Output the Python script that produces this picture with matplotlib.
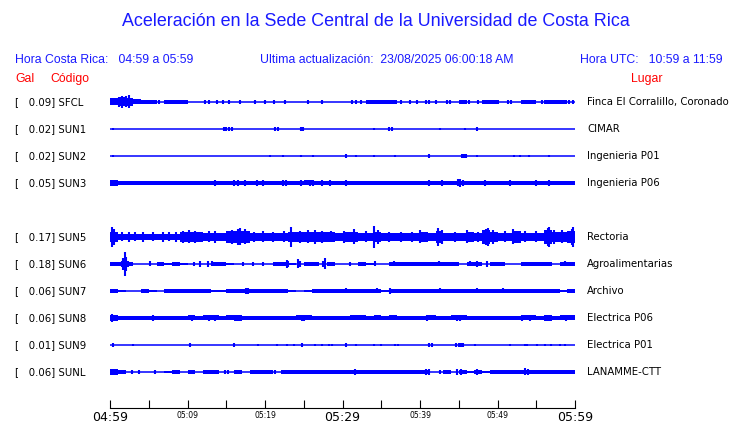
import matplotlib
matplotlib.use("Agg")
import matplotlib.pyplot as plt

# Stations (top to bottom); row 4 is left empty in the display
codes = ["SFCL", "SUN1", "SUN2", "SUN3", "SUN5", "SUN6", "SUN7", "SUN8", "SUN9", "SUNL"]
peaks = [0.09, 0.02, 0.02, 0.05, 0.17, 0.18, 0.06, 0.06, 0.01, 0.06]
places = ["Finca El Corralillo, Coronado", "CIMAR", "Ingenieria P01", "Ingenieria P06",
          "Rectoria", "Agroalimentarias", "Archivo", "Electrica P06", "Electrica P01",
          "LANAMME-CTT"]
rows = [0, 1, 2, 3, 5, 6, 7, 8, 9, 10]

# Time axis (minutes after 04:59 local)
tick_min = [0, 5, 10, 15, 20, 25, 30, 35, 40, 45, 50, 55, 60]
tick_lbl = ["04:59", "", "05:09", "", "05:19", "", "05:29", "", "05:39", "", "05:49", "", "05:59"]

# Envelope half-height (px) per minute
sfcl_band = [3.5, 4.5, 4, 2.5, 2.2, 2.2, 0, 2, 2, 1.9, 0, 0, 0, 0, 0, 0, 0, 0, 0, 0,
             0, 0, 0, 0, 0, 0, 0, 0, 0, 0, 0, 0, 0, 1.9, 2.2, 2.2, 2.2, 0, 0, 0,
             0, 0, 0, 0, 0, 1.9, 0, 0, 1.9, 1.9, 0, 0, 0, 1.9, 1.9, 0, 1.7, 1.9, 1.7, 0]
sun1_band = [0] * 60
sun2_band = [0] * 60
sun3_band = [2.6, 2.4, 2.4, 2.3, 1.9, 2.3, 2.3, 2.1, 2.0, 2.2, 2.2, 2.2, 2.2, 2.2, 2.2, 2.2, 2.3, 2.2, 2.2, 2.2,
             2.2, 2.2, 2.4, 2.2, 2.2, 2.5, 2.4, 2.2, 2.2, 2.2, 2.3, 2.2, 2.2, 2.2, 2.2, 2.2, 2.2, 2.2, 2.2, 2.2,
             2.2, 2.2, 2.2, 2.2, 2.4, 2.4, 2.2, 2.2, 2.2, 2.2, 2.2, 2.2, 2.2, 2.2, 2.2, 2.2, 2.2, 2.2, 2.2, 2.2]
sun5_band = [4.8, 3.4, 3.4, 3.4, 3.4, 3.4, 3.4, 3.4, 3.4, 4.8, 4.8, 4.8, 4.2, 4.2, 4.2, 6, 6, 6, 4.2, 4.2,
             4.2, 4.2, 4.2, 4.8, 4.8, 4.8, 4.8, 4.8, 4.8, 3.8, 4.8, 4.8, 3.8, 3.8, 5.4, 3.8, 3.8, 3.8, 3.8, 4.2,
             5.4, 3.8, 6, 3.6, 3.6, 3.8, 5.4, 3.6, 6.6, 5.4, 4.2, 4.2, 6, 4.2, 4.2, 4.2, 7, 5.4, 5.4, 6]
sun6_band = [2, 2, 2, 0, 0, 0, 1.7, 1.4, 1.7, 1.4, 0, 0, 0, 1.7, 1.7, 1.4, 0, 0, 0, 0,
             0, 1.9, 1.9, 1.4, 0, 1.7, 1.7, 0, 1.7, 0, 0, 0, 1.7, 1.4, 0, 0, 1.7, 1.7, 1.7, 1.7,
             1.7, 1.9, 1.7, 1.7, 1.7, 0, 1.9, 1.9, 0, 1.7, 1.7, 0, 0, 1.9, 1.9, 1.9, 1.7, 0, 1.7, 1.9]
sun7_band = [1.7, 1.4, 0, 0, 1.7, 1.4, 0, 1.7, 1.7, 1.7, 1.7, 1.7, 1.7, 1.4, 1.4, 2, 2, 2.2, 1.7, 1.7,
             1.7, 1.7, 1.7, 1.4, 0, 1.4, 1.7, 1.7, 1.7, 1.7, 1.7, 1.7, 1.7, 1.7, 1.7, 1.4, 1.7, 1.7, 1.9, 1.9,
             1.9, 1.9, 2.2, 1.9, 1.9, 1.9, 1.7, 1.7, 1.9, 1.9, 1.9, 1.9, 1.9, 1.9, 1.9, 1.9, 1.9, 1.7, 1.4, 2.2]
sun8_band = [3.2, 2.2, 2.2, 2.2, 2.2, 2.2, 2.2, 2.2, 2.2, 2.2, 2.5, 2.2, 2.5, 2.5, 2.2, 2.5, 2.7, 2.2, 2.2, 2.2,
             2.2, 2.2, 2.2, 2.2, 2.5, 2.5, 2.2, 2.2, 2.2, 2.2, 2.2, 2.5, 2.5, 2.3, 2.5, 2.2, 2.5, 2.2, 2.2, 2.2,
             2.2, 2.5, 2.2, 2.2, 2.5, 2.5, 2.2, 2.2, 2.2, 2.2, 2.2, 2.2, 2.2, 2.5, 2.5, 2.2, 2.7, 2.2, 2.5, 2.5]
sun9_band = [0] * 60
sunl_band = [2.6, 1.9, 0, 0, 0, 0, 0, 1.4, 1.7, 0, 1.7, 0, 1.9, 1.9, 0, 0, 1.7, 0, 1.9, 1.9,
             1.7, 0, 1.9, 1.9, 1.9, 1.9, 1.9, 1.9, 1.9, 1.9, 1.9, 1.9, 1.9, 1.9, 1.9, 1.9, 2, 1.9, 1.9, 1.9,
             1.7, 0, 0, 1.7, 0, 1.9, 1.4, 1.9, 1.4, 1.9, 1.9, 1.9, 1.9, 2, 1.9, 1.9, 1.9, 1.9, 1.9, 1.9]

# Isolated spikes: (minute, half-height px)
sfcl_spk = [(1.2, 5), (1.6, 6), (2.0, 5.5), (2.4, 6.5), (6.3, 1.7), (12.3, 2), (12.8, 2), (13.8, 2),
            (14.6, 1.7), (15.3, 1.7), (16.8, 2), (18.7, 1.7), (20.0, 2), (21.1, 1.7), (22.6, 1.7), (25.6, 1.7),
            (27.3, 1.7), (31.2, 1.7), (31.8, 1.7), (32.4, 1.7), (37.6, 1.7), (38.7, 1.7), (39.6, 1.7),
            (40.8, 2), (41.2, 2), (42.1, 1.7), (43.5, 2), (43.9, 2), (46.3, 1.7), (47.5, 1.9), (50.1, 1.7),
            (51.3, 2), (51.8, 2), (55.7, 1.7), (59.2, 1.7), (59.7, 1.7)]
sun1_spk = [(0.4, 1.4), (14.7, 1.7), (15.0, 1.9), (15.3, 1.7), (15.7, 1.7), (21.3, 1.7), (21.7, 1.7),
            (24.6, 2), (24.9, 2), (34.0, 1.4), (36.0, 1.7), (36.4, 1.7), (42.6, 1.4), (45.8, 1.4), (47.3, 2)]
sun2_spk = [(0.4, 1.4), (20.6, 1.4), (22.3, 1.4), (24.6, 1.4), (26.2, 1.4), (30.4, 1.9), (31.8, 1.4),
            (34.0, 1.4), (36.8, 1.4), (41.1, 1.9), (45.4, 2.2), (45.7, 2.2), (45.9, 2.2), (47.4, 1.4),
            (52.1, 1.4), (52.9, 1.4), (54.0, 1.4), (56.6, 1.4)]
sun3_spk = [(0.4, 3.2), (13.5, 2.8), (16.0, 2.8), (16.5, 2.8), (17.4, 2.8), (19.0, 2.6), (19.8, 2.6),
            (22.3, 3), (22.7, 3), (24.7, 2.8), (25.8, 3.3), (26.2, 3), (27.3, 2.6), (28.4, 2.6),
            (30.5, 3), (41.1, 2.8), (42.8, 2.6), (44.9, 3.5), (45.2, 3.8), (45.5, 3), (48.4, 2.8),
            (51.6, 2.8), (55.0, 2.6), (56.6, 2.6)]
sun5_spk = [(0.2, 10), (0.5, 8), (1.5, 4.5), (2.5, 5), (3.2, 4.5), (4.3, 5), (5.5, 4.5), (6.8, 5),
            (7.6, 4.5), (8.5, 5), (9.4, 6), (10.2, 6.5), (11.0, 6), (12.8, 5.5), (13.6, 6), (15.8, 7),
            (16.5, 8), (16.8, 8.5), (17.4, 7.5), (18.6, 5), (19.8, 5.5), (21.0, 5), (22.5, 5.5),
            (23.4, 10), (24.5, 6), (25.6, 6.5), (26.5, 7), (27.4, 6), (28.5, 5.5), (30.2, 6), (31.5, 7.5),
            (33.0, 5.5), (34.0, 11), (34.6, 7), (36.0, 5), (37.5, 5), (39.0, 5), (40.0, 6.5), (42.3, 9),
            (42.8, 7), (44.5, 5), (46.0, 6.5), (47.5, 5), (48.5, 8), (48.8, 9), (49.4, 7), (51.0, 5.5),
            (52.0, 7.5), (53.5, 5.5), (55.0, 5.5), (56.5, 9), (56.7, 10), (57.3, 7), (58.3, 6.5),
            (59.6, 8), (59.8, 10)]
sun6_spk = [(1.5, 3), (1.7, 6), (1.9, 12), (2.1, 7), (2.3, 3), (5.2, 2.5), (10.8, 2), (11.6, 3),
            (12.7, 2.8), (13.1, 2.5), (17.2, 1.7), (18.5, 1.7), (19.8, 1.9), (22.8, 4), (23.0, 3), (24.3, 4.5),
            (24.5, 3), (27.5, 2.8), (27.7, 5.5), (31.0, 1.9), (34.2, 2.5), (36.6, 2.5), (42.5, 2.5),
            (46.5, 2.5), (47.3, 2.8), (48.6, 2.6), (58.7, 2.5), (59.0, 2.3)]
sun7_spk = [(17.5, 3.2), (17.8, 2.8), (30.5, 2.5), (34.5, 2.5), (36.1, 2.8), (42.6, 2.5), (47.3, 2.5),
            (50.7, 2.5), (59.5, 2.2)]
sun8_spk = [(0.3, 3.8), (0.7, 3.4), (5.6, 2.6), (10.6, 2.8), (12.8, 2.6), (13.6, 2.6), (16.2, 3),
            (16.6, 2.8), (24.8, 3.4), (25.0, 3), (40.9, 2.8), (44.8, 3.2), (45.1, 3.4), (53.2, 2.8),
            (54.2, 2.8), (56.2, 3), (56.8, 3), (58.9, 2.6)]
sun9_spk = [(0.4, 2), (3.0, 1.4), (10.3, 2), (16.0, 2), (19.1, 1.4), (21.5, 1.4), (22.8, 1.4),
            (23.7, 1.4), (24.8, 2), (26.5, 1.4), (27.3, 1.4), (28.2, 1.4), (28.6, 1.4), (30.4, 2),
            (31.8, 1.4), (34.0, 1.4), (35.0, 1.4), (36.8, 1.4), (37.2, 1.4), (41.1, 2), (41.5, 1.7),
            (44.7, 2), (45.0, 2), (45.3, 2), (45.6, 2), (47.1, 1.4), (51.6, 1.4), (53.5, 1.4),
            (53.8, 1.4), (55.1, 1.4), (56.1, 1.4), (56.9, 1.4), (58.0, 1.4), (58.7, 1.4)]
sunl_spk = [(0.3, 3), (2.8, 1.7), (3.7, 1.7), (5.8, 1.7), (14.8, 1.7), (15.2, 1.7), (21.3, 1.7),
            (31.6, 2.6), (36.2, 2.4), (40.8, 2.8), (41.2, 2.6), (42.6, 2.2), (43.5, 1.9), (44.8, 2.6),
            (45.3, 2.6), (47.4, 3), (53.5, 3.5), (53.9, 3)]

bands = [sfcl_band, sun1_band, sun2_band, sun3_band, sun5_band, sun6_band, sun7_band, sun8_band,
         sun9_band, sunl_band]
spikes = [sfcl_spk, sun1_spk, sun2_spk, sun3_spk, sun5_spk, sun6_spk, sun7_spk, sun8_spk,
          sun9_spk, sunl_spk]

W, H = 740, 423
BLUE = "#0000ff"
TBLUE = "#1a1aff"
RED = "#ff0000"
HEAD = "Liberation Sans"
MONO = "DejaVu Sans"


def fx(x):
    return x / W


def fy(y):
    return 1 - y / H


fig = plt.figure(figsize=(W / 100, H / 100), dpi=100)

# Header texts
fig.text(fx(376), fy(22), "Aceleración en la Sede Central de la Universidad de Costa Rica",
         ha="center", va="center", color=TBLUE, fontsize=12.9, family=HEAD)
fig.text(fx(15), fy(60), "Hora Costa Rica:   04:59 a 05:59", ha="left", va="center",
         color=TBLUE, fontsize=8.8, family=HEAD)
fig.text(fx(260), fy(60), "Ultima actualización:  23/08/2025 06:00:18 AM", ha="left", va="center",
         color=TBLUE, fontsize=8.8, family=HEAD)
fig.text(fx(723), fy(60), "Hora UTC:   10:59 a 11:59", ha="right", va="center",
         color=TBLUE, fontsize=8.8, family=HEAD)
fig.text(fx(15), fy(79), "Gal", ha="left", va="center", color=RED, fontsize=8.8, family=HEAD)
fig.text(fx(50), fy(79), "Código", ha="left", va="center", color=RED, fontsize=8.8, family=HEAD)
fig.text(fx(631), fy(79), "Lugar", ha="left", va="center", color=RED, fontsize=8.8, family=HEAD)

# Trace panel: x in minutes, y in pixels from the top of the image
top, bot = 85, 408
ax = fig.add_axes([fx(110), fy(bot), (575 - 110) / W, (bot - top) / H])
ax.set_xlim(0, 60)
ax.set_ylim(bot, top)
for s in ["top", "left", "right"]:
    ax.spines[s].set_visible(False)
ax.spines["bottom"].set_linewidth(0.8)
ax.set_yticks([])
ax.set_xticks(tick_min)
ax.set_xticklabels(tick_lbl)
ax.tick_params(axis="x", direction="in", length=5.8, width=0.8, pad=2)
for lab, txt in zip(ax.get_xticklabels(), tick_lbl):
    big = txt in ("04:59", "05:29", "05:59")
    lab.set_fontsize(9 if big else 5.5)
    lab.set_family(MONO)

minutes = list(range(60))
for k, code in enumerate(codes):
    yc = 102 + 27 * rows[k]
    band = bands[k]
    ax.hlines(yc, 0, 60, color=BLUE, lw=1.1)
    ax.bar(minutes, [2 * b for b in band], bottom=[yc - b for b in band], width=1.0,
           align="edge", color=BLUE, linewidth=0)
    ts = [t for t, h in spikes[k]]
    ax.vlines(ts, [yc - h for t, h in spikes[k]], [yc + h for t, h in spikes[k]],
              color=BLUE, lw=1.5)

    fig.text(fx(15), fy(yc), f"[{peaks[k]:7.2f}] {code}", ha="left", va="center",
             fontsize=7.3, family=MONO, color="black")
    fig.text(fx(587), fy(yc), places[k], ha="left", va="center",
             fontsize=7.3, family=MONO, color="black")

fig.savefig("out.png", dpi=100)
